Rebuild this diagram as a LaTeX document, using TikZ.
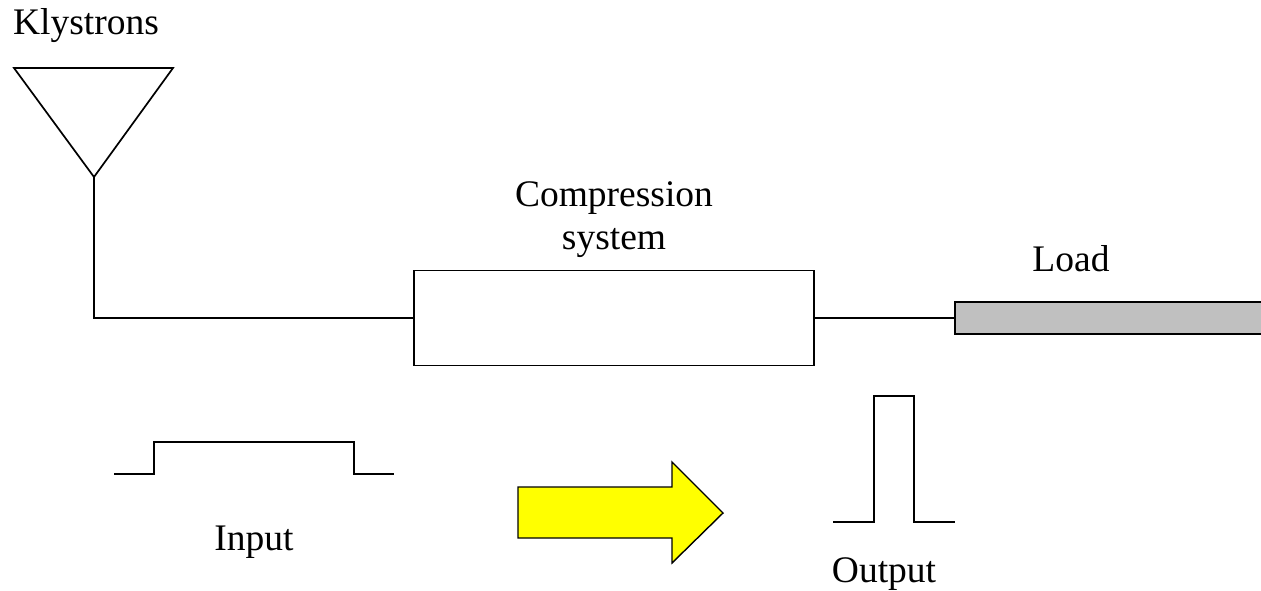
\documentclass[tikz,border=0pt]{standalone}
\usepackage{fontspec}
\setmainfont{Liberation Serif}
\begin{document}
\begin{tikzpicture}[x=1pt,y=-1pt,
  wire/.style={line width=1.7pt,black},
  lbl/.style={font=\fontsize{37.5}{43}\selectfont,inner sep=0pt},
  block/.style={draw,line width=1.7pt,fill=white,inner sep=0pt},
  loadbox/.style={draw,line width=1.8pt,fill={rgb,255:red,192;green,192;blue,192},inner sep=0pt}]
\useasboundingbox (0,0) rectangle (1261,590);
% klystron symbol
\coordinate (kl) at (14,68);
\coordinate (kr) at (173,68);
\coordinate (ka) at (94,177);
\draw[wire,line join=miter] (kl) -- (kr) -- (ka) -- cycle;
\node[lbl] (klys) at (86,26) {Klystrons};
% compression system and load
\node[block,minimum width=400pt,minimum height=95pt] (comp) at (614,318) {};
\node[lbl,align=center] (comptxt) at (614,220) {Compression\\system};
\node[loadbox,minimum width=320pt,minimum height=32pt,anchor=west] (load) at (954,318) {};
\node[lbl] (loadtxt) at (1071,259) {Load};
\draw[wire] (ka) |- (comp.west);
\draw[wire] (comp.east) -- (load.west);
% input pulse
\coordinate (i0) at (114,474);
\coordinate (i1) at (394,474);
\draw[wire] (i0) -- (154,474) -- (154,442) -- (354,442) -- (354,474) -- (i1);
\node[lbl] (intxt) at (254,542) {Input};
% output pulse
\coordinate (o0) at (833,522);
\coordinate (o1) at (955,522);
\draw[wire] (o0) -- (874,522) -- (874,396) -- (914,396) -- (914,522) -- (o1);
\node[lbl] (outtxt) at (884,574) {Output};
% big yellow arrow
\draw[line width=1.4pt,fill={rgb,255:red,255;green,255;blue,0},line join=miter]
  (518,487) -- (672,487) -- (672,462) -- (723,513) -- (672,563) -- (672,538) -- (518,538) -- cycle;
\end{tikzpicture}
\end{document}
